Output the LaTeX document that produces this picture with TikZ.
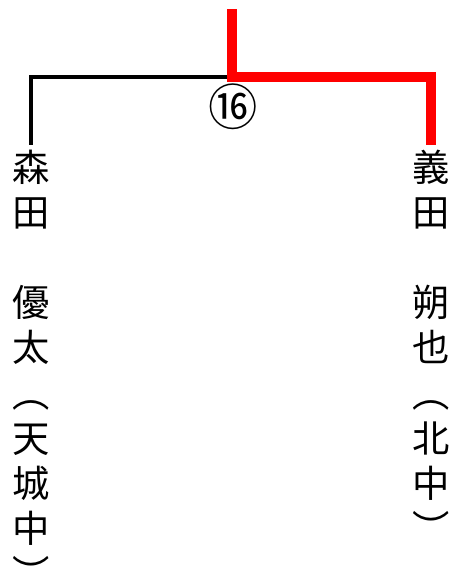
\documentclass[tikz,border=0pt]{standalone}
\usepackage{fontspec}
\newfontfamily\cjk{Noto Sans CJK JP}
\usetikzlibrary{positioning}

\begin{document}
\begin{tikzpicture}[x=0.75pt,y=-0.75pt,
  name node/.style={font=\cjk\fontsize{28}{33.8}\selectfont,align=center,inner sep=0pt,anchor=north},
  num node/.style={font=\cjk\fontsize{37}{37}\selectfont,inner sep=0pt},
  win line/.style={draw=red,line width=7pt},
  lose line/.style={draw=black,line width=3pt}]
\useasboundingbox (0,0) rectangle (454,572);
\begin{scope}
\node[name node] (morita) at (31,150) {森\\田\\　\\優\\太\\︵\\天\\城\\中\\︶};
\node[name node] (yoshida) at (431,150) {義\\田\\　\\朔\\也\\︵\\北\\中\\︶};
\node[num node] (m16) at (233,107) {⑯};
\coordinate (top) at (232,9);
\coordinate (final) at (232,77);
\end{scope}
\begin{scope}
\draw[lose line,shorten <=4pt] (morita.north) |- (final);
\draw[win line,shorten >=4pt] (top) -- (final) -| (yoshida.north);
\end{scope}
\end{tikzpicture}
\end{document}
